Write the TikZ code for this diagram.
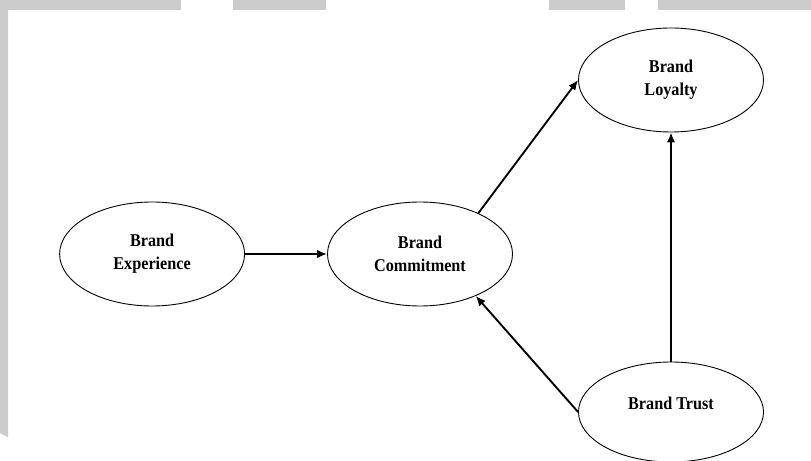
\documentclass[tikz,border=0pt]{standalone}
\usepackage{fontspec}
\setmainfont{Liberation Serif}[FakeStretch=0.9]
\usepackage{tikz}
\usetikzlibrary{arrows.meta,positioning,shapes.geometric}

\begin{document}
\begin{tikzpicture}[
    x=1bp, y=-1bp,
    font=\fontsize{18bp}{23bp}\selectfont\bfseries,
    cons/.style={draw, ellipse, line width=0.9bp, align=center, inner sep=0pt,
                 minimum width=185bp, minimum height=104bp},
    link/.style={->, line width=1.9bp},
    strip/.style={fill=black!20, draw=none},
    >={Latex[length=10bp, width=8.5bp]},
    ]
\useasboundingbox (0,0) rectangle (811,461);
% page strips
\fill[strip] (0,0) rectangle (181,10);
\fill[strip] (233,0) rectangle (326,10);
\fill[strip] (549,0) rectangle (625,10);
\fill[strip] (658,0) rectangle (811,10);
\fill[strip] (0,0) -- (8,0) -- (8,437) -- (0,433) -- cycle;

\node[cons] (cm) at (420,254) {Brand\\Commitment};
\node[cons, left=82bp of cm] (ex) {Brand\\Experience};
\node[cons] (ly) at (671,80) {Brand\\Loyalty};
\node[cons, minimum height=100bp] (tr) at (671,412) {Brand Trust\\[-6bp]~};

\draw[link] (ex) -- (cm);
\draw[link] (cm.35) -- (ly.west);
\draw[link] (tr.west) -- (cm.-37);
\draw[link] (tr.north) -- (ly.south);
\end{tikzpicture}
\end{document}
